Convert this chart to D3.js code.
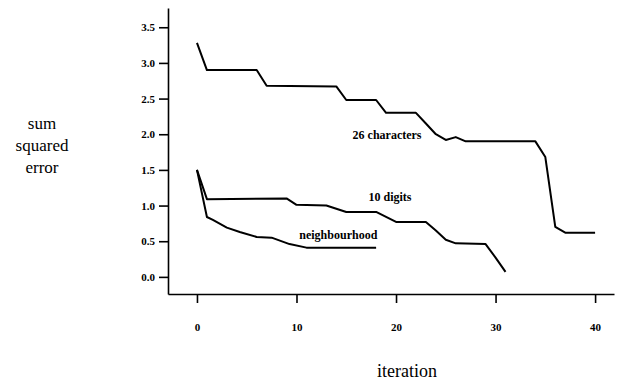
<!DOCTYPE html>
<meta charset="utf-8">
<style>
    body {
        margin: 0;
        background: #fff;
    }

    .axis path,
    .axis line {
        fill: none;
        stroke: #000;
        stroke-width: 1.6px;
    }

    .curve {
        fill: none;
        stroke: #000;
        stroke-width: 2px;
        stroke-linejoin: round;
    }
</style>

<body>
    <script src="https://cdnjs.cloudflare.com/ajax/libs/d3/7.8.5/d3.min.js"></script>
    <script>

        // iteration / sum squared error
        var chars26 = [[0, 3.28], [1, 2.90], [6, 2.90], [7, 2.68], [14, 2.67], [15, 2.48], [18, 2.48],
            [19, 2.30], [22, 2.30], [23, 2.15], [24, 2.0], [25, 1.92], [26, 1.96], [27, 1.90],
            [34, 1.90], [35, 1.68], [36, 0.70], [37, 0.62], [40, 0.62]];
        var digits10 = [[0, 1.50], [1, 1.09], [9, 1.10], [10, 1.01], [13, 1.00], [15, 0.91], [18, 0.91],
            [19, 0.84], [20, 0.77], [23, 0.77], [24, 0.65], [25, 0.52], [26, 0.47], [29, 0.46],
            [30, 0.27], [31, 0.07]];
        var neighbourhood = [[0, 1.50], [1, 0.84], [1.6, 0.80], [3, 0.69], [4.3, 0.63], [6, 0.56],
            [7.5, 0.55], [9.3, 0.46], [11, 0.41], [18, 0.41]];

        var xTicks = [0, 10, 20, 30, 40];
        var yTicks = [0, 0.5, 1.0, 1.5, 2.0, 2.5, 3.0, 3.5];

        var curveLabels = [
            { text: "26 characters", x: 19.1, y: 1.93 },
            { text: "10 digits", x: 19.4, y: 1.07 },
            { text: "neighbourhood", x: 14.2, y: 0.53 }
        ];

        var serif = "'Liberation Serif', 'DejaVu Serif', serif";
        var width = 619, height = 383;

        var svg = d3.select("body").append("svg")
            .attr("width", width)
            .attr("height", height);

        var x = d3.scaleLinear().domain([-2.91, 41.9]).range([168, 614]);
        var y = d3.scaleLinear().domain([-0.24, 3.77]).range([294, 8]);

        svg.append("g")
            .attr("class", "axis")
            .attr("transform", "translate(0,294)")
            .call(d3.axisBottom(x).tickValues(xTicks).tickSize(9).tickSizeOuter(0).tickPadding(20))
            .attr("font-family", serif)
            .attr("font-size", 11)
            .attr("font-weight", "bold");

        svg.append("g")
            .attr("class", "axis")
            .attr("transform", "translate(168,0)")
            .call(d3.axisLeft(y).tickValues(yTicks).tickFormat(d3.format(".1f"))
                .tickSize(9).tickSizeOuter(0).tickPadding(4))
            .attr("font-family", serif)
            .attr("font-size", 11)
            .attr("font-weight", "bold");

        var line = d3.line()
            .x(function (d) { return x(d[0]); })
            .y(function (d) { return y(d[1]); });

        [chars26, digits10, neighbourhood].forEach(function (s) {
            svg.append("path")
                .attr("class", "curve")
                .attr("d", line(s));
        });

        svg.selectAll(".lbl")
            .data(curveLabels)
            .enter()
            .append("text")
            .attr("class", "lbl")
            .attr("x", function (d) { return x(d.x); })
            .attr("y", function (d) { return y(d.y); })
            .attr("text-anchor", "middle")
            .attr("font-family", serif)
            .attr("font-size", 12)
            .attr("font-weight", "bold")
            .text(function (d) { return d.text; });

        // axis titles
        var yTitle = svg.append("text")
            .attr("text-anchor", "middle")
            .attr("font-family", serif)
            .attr("font-size", 17);
        ["sum", "squared", "error"].forEach(function (t, i) {
            yTitle.append("tspan")
                .attr("x", 42)
                .attr("y", 129 + i * 22)
                .text(t);
        });

        svg.append("text")
            .attr("x", 407)
            .attr("y", 377)
            .attr("text-anchor", "middle")
            .attr("font-family", serif)
            .attr("font-size", 18)
            .text("iteration");

    </script>
</body>
